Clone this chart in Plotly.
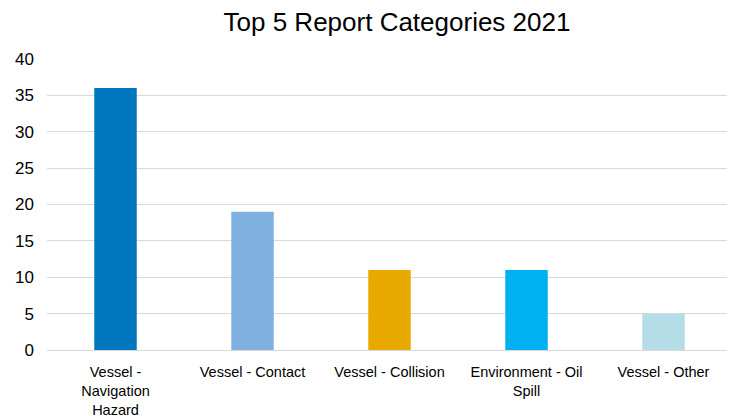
import plotly.graph_objects as go

categories = ["Vessel -<br>Navigation<br>Hazard", "Vessel - Contact", "Vessel - Collision",
              "Environment - Oil<br>Spill", "Vessel - Other"]
values = [36, 19, 11, 11, 5]
colors = ["#0077BE", "#7EB1DF", "#E8AA00", "#00B0F0", "#B5DDE8"]

fig = go.Figure(go.Bar(x=categories, y=values, marker=dict(color=colors, line=dict(width=0)),
                       width=0.31))

# page body has an 8px margin; figure sized to fill the 735x416 window
fig.update_layout(
    width=727, height=408,
    margin=dict(l=39, r=3, t=51, b=66),
    paper_bgcolor="white", plot_bgcolor="white",
    font=dict(family="Liberation Sans, Arial, sans-serif", size=14, color="#000000"),
    title=dict(text="Top 5 Report Categories 2021", x=389/727, xanchor="center",
               y=1 - 14/408, yanchor="middle", font=dict(size=26, color="#000000")),
    showlegend=False,
)
fig.update_xaxes(showline=True, linecolor="#D9D9D9", linewidth=1, showgrid=False,
                 ticks="", ticklabelstandoff=9, automargin=False,
                 tickfont=dict(size=14.5))
fig.update_yaxes(range=[0, 40], dtick=5, showgrid=True, gridcolor="#D9D9D9", gridwidth=1,
                 zeroline=False, showline=False, ticks="", ticklabelstandoff=12, automargin=False,
                 tickfont=dict(size=17))

fig.write_html("out.html")
